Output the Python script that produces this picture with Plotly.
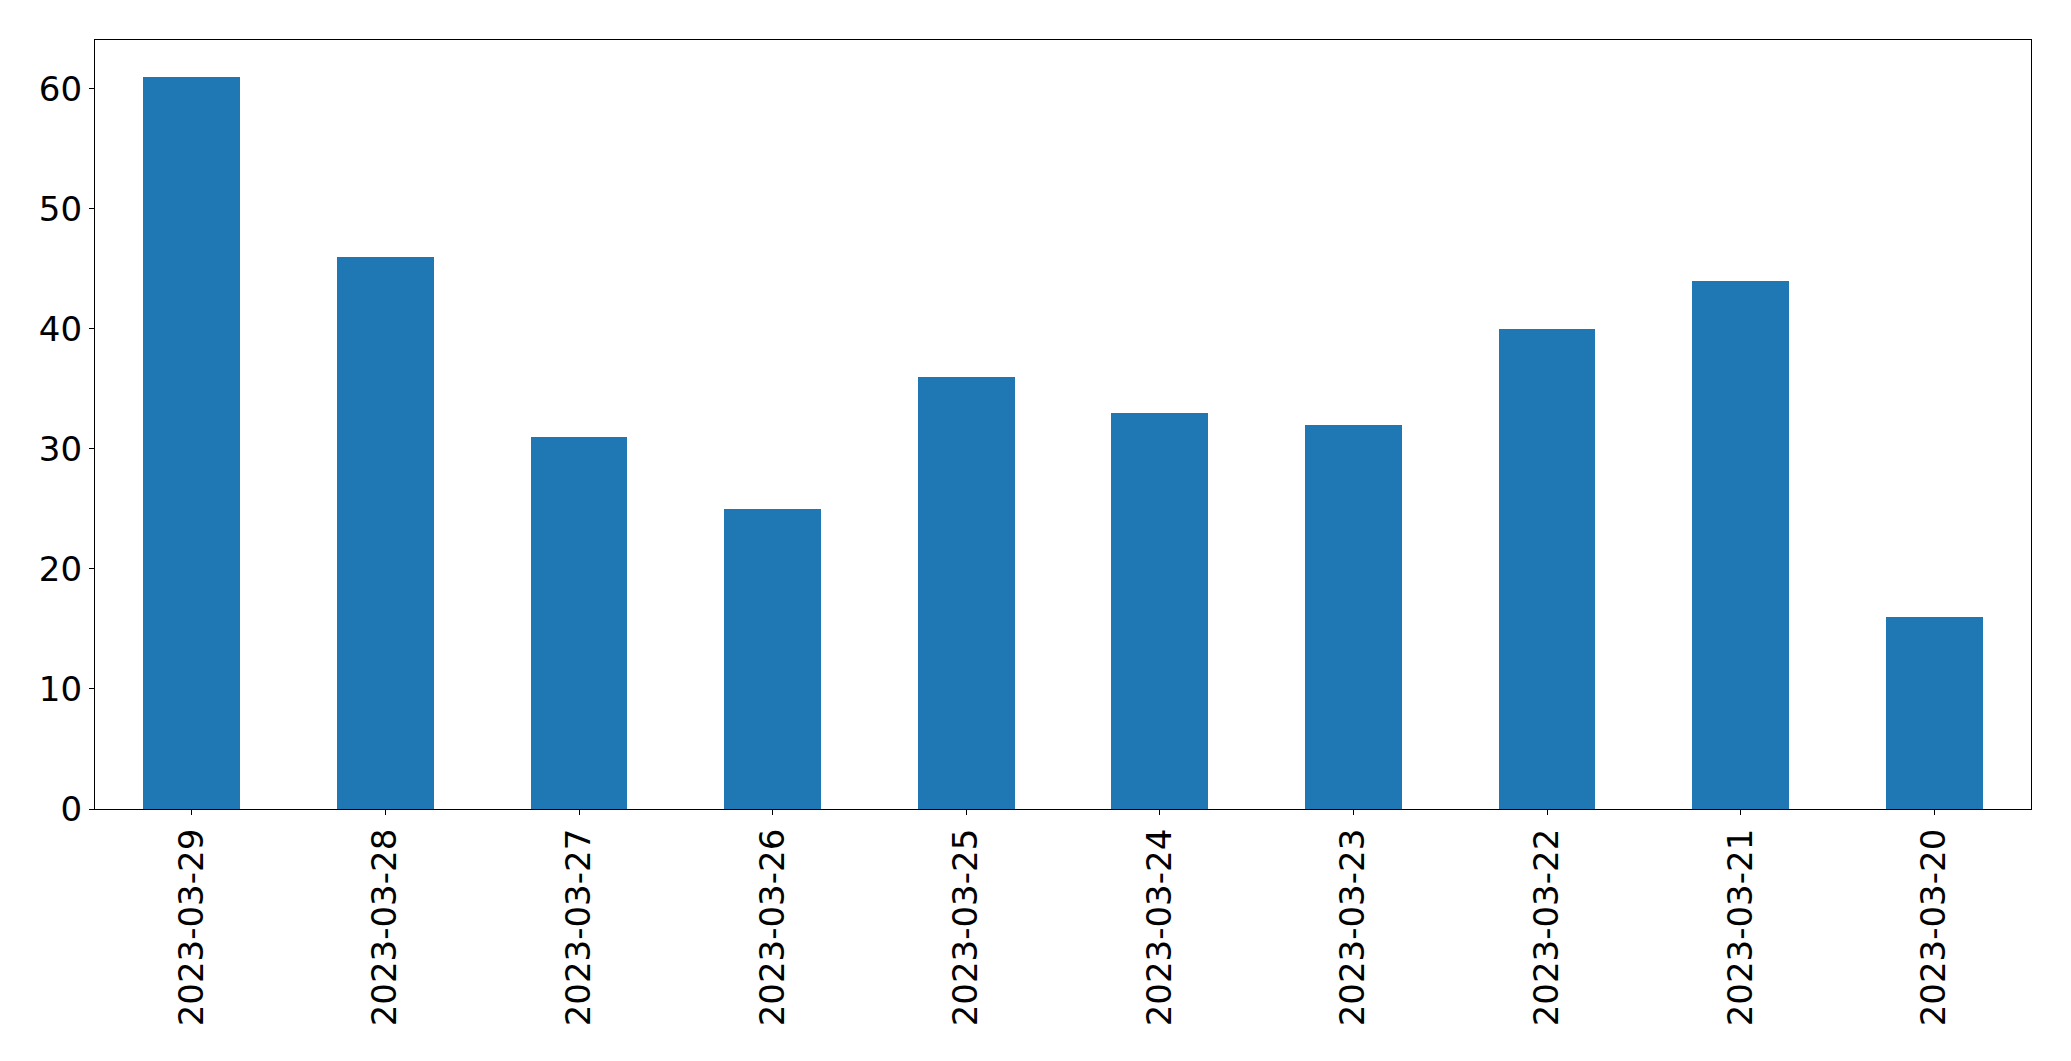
import plotly.graph_objects as go

dates = ["2023-03-29", "2023-03-28", "2023-03-27", "2023-03-26", "2023-03-25",
         "2023-03-24", "2023-03-23", "2023-03-22", "2023-03-21", "2023-03-20"]
counts = [61, 46, 31, 25, 36, 33, 32, 40, 44, 16]
y_ticks = [0, 10, 20, 30, 40, 50, 60]

fig = go.Figure(go.Bar(x=dates, y=counts, marker_color="#1f77b4", marker_line_width=0, width=0.5))

fig.update_layout(
    width=2071, height=1061,
    margin=dict(l=94.5, r=39.5, t=39.5, b=252),
    paper_bgcolor="white", plot_bgcolor="white",
    font=dict(family="DejaVu Sans", size=34, color="black"),
    showlegend=False,
    bargap=0,
)
fig.update_xaxes(
    type="category", range=[-0.5, len(dates) - 0.5],
    tickangle=-90, ticks="outside", ticklen=5, tickwidth=1.3, tickcolor="black",
    showline=True, linecolor="black", linewidth=1.3, mirror=True,
    showgrid=False, zeroline=False,
)
fig.update_yaxes(
    range=[0, 64.05], tickvals=y_ticks,
    ticks="outside", ticklen=5, tickwidth=1.3, tickcolor="black",
    showline=True, linecolor="black", linewidth=1.3, mirror=True,
    showgrid=False, zeroline=False,
)
fig.write_html("out.html")
